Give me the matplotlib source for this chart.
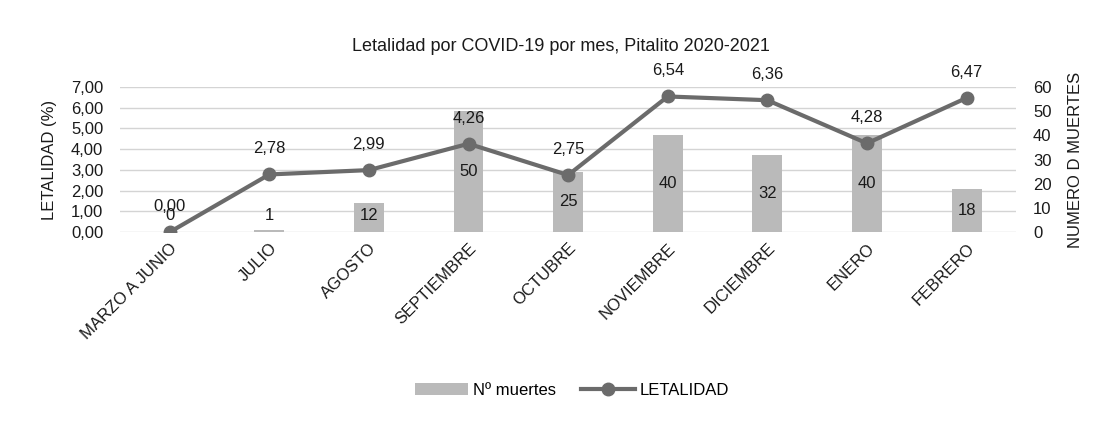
import numpy as np
import matplotlib
matplotlib.use("Agg")
import matplotlib.pyplot as plt
import matplotlib.ticker as ticker

plt.rcParams['font.family'] = ['Liberation Sans', 'DejaVu Sans']

# Data.
months = ['MARZO A JUNIO', 'JULIO', 'AGOSTO', 'SEPTIEMBRE', 'OCTUBRE',
          'NOVIEMBRE', 'DICIEMBRE', 'ENERO', 'FEBRERO']
deaths = [0, 1, 12, 50, 25, 40, 32, 40, 18]
lethality = [0.00, 2.78, 2.99, 4.26, 2.75, 6.54, 6.36, 4.28, 6.47]

bar_color = '#bababa'
line_color = '#6b6b6b'
text_color = '#1a1a1a'
grid_color = '#d4d4d4'


def comma(v, pos=None):
    return f"{v:.2f}".replace('.', ',')


fig = plt.figure(figsize=(11, 4.22), dpi=100)
pos = [0.109, 0.450, 0.815, 0.344]

# Background axes only for the gridlines, so the bars sit on top of them.
axg = fig.add_axes(pos, zorder=0)
axg.set_ylim(0, 7)
axg.yaxis.set_major_locator(ticker.MultipleLocator(1))
axg.yaxis.grid(True, color=grid_color, lw=1)
axg.get_ygridlines()[-1].set_visible(False)
axg.set_xticks([])
axg.tick_params(left=False, labelleft=False)
for s in axg.spines.values():
    s.set_visible(False)

ax = fig.add_axes(pos, zorder=2)
ax.patch.set_visible(False)
ax2 = ax.twinx()
ax2.set_zorder(1)
ax2.patch.set_visible(False)

x = np.arange(len(months))

# Bars on the right axis.
ax2.bar(x, deaths, width=0.3, color=bar_color, zorder=1, label='Nº muertes')
for xi, d in zip(x, deaths):
    ax2.text(xi, max(d / 2, 7), str(d), ha='center', va='center',
             fontsize=12, color=text_color)
ax2.set_ylim(0, 60)
ax2.yaxis.set_major_locator(ticker.MultipleLocator(10))
ax2.set_ylabel('NUMERO D MUERTES', fontsize=12, color=text_color, labelpad=12)

# Line on the left axis, above the bars.
ax.plot(x, lethality, color=line_color, lw=3, marker='o', ms=9,
        markerfacecolor=line_color, markeredgecolor=line_color,
        zorder=3, label='LETALIDAD')
for xi, v in zip(x, lethality):
    ax.annotate(comma(v), (xi, v), xytext=(0, 13), textcoords='offset points',
                ha='center', va='bottom', fontsize=12, color=text_color)
ax.set_ylim(0, 7)
ax.set_xlim(-0.5, len(months) - 0.5)
axg.set_xlim(-0.5, len(months) - 0.5)
ax.yaxis.set_major_locator(ticker.MultipleLocator(1))
ax.yaxis.set_major_formatter(ticker.FuncFormatter(comma))
ax.set_ylabel('LETALIDAD (%)', fontsize=12, color=text_color, labelpad=10)
ax.set_xticks(x)
ax.set_xticklabels(months, rotation=45, ha='right', rotation_mode='anchor',
                   fontsize=12, color=text_color)

for a in (ax, ax2):
    for s in a.spines.values():
        s.set_visible(False)
    a.tick_params(length=0, labelsize=12, colors=text_color)
ax.tick_params(axis='x', pad=6)
ax.tick_params(axis='y', pad=12)
ax2.tick_params(axis='y', pad=12)

fig.suptitle('Letalidad por COVID-19 por mes, Pitalito 2020-2021',
             x=0.51, y=0.91, fontsize=13, color=text_color)

h1, l1 = ax2.get_legend_handles_labels()
h2, l2 = ax.get_legend_handles_labels()
fig.legend(h1 + h2, l1 + l2, loc='center', bbox_to_anchor=(0.52, 0.075),
           ncol=2, frameon=False, fontsize=12, handlelength=3.2,
           columnspacing=1.5, handletextpad=0.3)

plt.savefig('out.png')
